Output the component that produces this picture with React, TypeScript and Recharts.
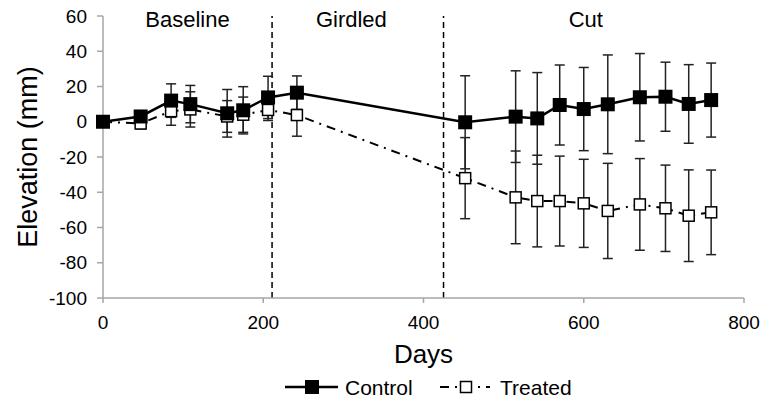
import React from 'react';
import {
  ComposedChart,
  Line,
  XAxis,
  YAxis,
  ErrorBar,
  ReferenceLine,
  ReferenceArea,
  Legend,
} from 'recharts';

const days = [0, 47, 85, 109, 155, 175, 206, 242, 452, 515, 542, 570, 600, 630, 670, 702, 731, 759];
const controlValues = [0, 3, 12, 10, 4.8, 6.5, 13.8, 16.5, -0.3, 2.9, 1.9, 9.5, 7.2, 9.9, 13.9, 14.2, 10.1, 12.3];
const controlErrors = [0, 3, 9.5, 10.6, 13.5, 13.4, 12, 9.5, 26.4, 26, 26, 22.7, 23.6, 28, 24.8, 19.6, 22.3, 21];
const treatedValues = [0, -1, 6, 7, 3, 4, 6.7, 3.8, -32, -42.9, -45, -45, -46.3, -50.6, -46.9, -49.1, -53.3, -51.4];
const treatedErrors = [0, 3, 8, 10, 9, 10, 6, 12, 23, 26.3, 26, 25.5, 25, 27, 26, 24.5, 26, 24];

const xTicks = [0, 200, 400, 600, 800];
const yTicks = [-100, -80, -60, -40, -20, 0, 20, 40, 60];
const phaseBreaks = [211, 425];
const phases = [
  { name: 'Baseline', from: 0, to: 211 },
  { name: 'Girdled', from: 211, to: 409 },
  { name: 'Cut', from: 425, to: 780 },
];

const data = days.map((d, i) => ({
  day: d,
  control: controlValues[i],
  controlErr: controlErrors[i],
  treated: treatedValues[i],
  treatedErr: treatedErrors[i],
}));

const FONT = '"Liberation Sans", Arial, sans-serif';
const AXIS = '#A6A6A6';

const ControlDot = (props: any) => {
  const { cx, cy, index } = props;
  if (cx == null || cy == null) return <g key={`c${index}`} />;
  return <rect key={`c${index}`} x={cx - 7} y={cy - 7} width={14} height={14} fill="#000" />;
};

const TreatedDot = (props: any) => {
  const { cx, cy, index } = props;
  if (cx == null || cy == null) return <g key={`t${index}`} />;
  return (
    <rect
      key={`t${index}`}
      x={cx - 5.5}
      y={cy - 5.5}
      width={11}
      height={11}
      fill="#fff"
      stroke="#000"
      strokeWidth={1.5}
    />
  );
};

const LegendContent = () => (
  <svg width={768} height={36} style={{ display: 'block', fontFamily: FONT }}>
    <line x1={285} y1={19} x2={338} y2={19} stroke="#000" strokeWidth={2.5} />
    <rect x={305} y={12} width={14} height={14} fill="#000" />
    <text x={345} y={26.5} fontSize={21} fill="#000">Control</text>
    <line x1={440} y1={19} x2={490} y2={19} stroke="#000" strokeWidth={2} strokeDasharray="9 6 2 6" />
    <rect x={460.5} y={13.5} width={11} height={11} fill="#fff" stroke="#000" strokeWidth={1.5} />
    <text x={500} y={26.5} fontSize={21} fill="#000">Treated</text>
  </svg>
);

export default function App() {
  return (
    <div style={{ position: 'absolute', left: 0, top: 0, width: 768, height: 404, background: '#fff', fontFamily: FONT }}>
      <ComposedChart width={768} height={404} data={data} margin={{ top: 16, right: 24, bottom: 0, left: 0 }}>
        <XAxis
          type="number"
          dataKey="day"
          domain={[0, 800]}
          ticks={xTicks}
          height={70}
          tickSize={5}
          tickMargin={13}
          axisLine={{ stroke: AXIS, strokeWidth: 1.5 }}
          tickLine={{ stroke: AXIS, strokeWidth: 1.5 }}
          tick={{ fill: '#000', fontSize: 19 }}
          label={{ value: 'Days', position: 'insideBottom', offset: 5, fontSize: 26, fill: '#000' }}
        />
        <YAxis
          type="number"
          domain={[-100, 60]}
          ticks={yTicks}
          width={103}
          tickSize={6}
          tickMargin={10}
          axisLine={{ stroke: AXIS, strokeWidth: 1.5 }}
          tickLine={{ stroke: AXIS, strokeWidth: 1.5 }}
          tick={{ fill: '#000', fontSize: 19 }}
          label={{
            content: () => (
              <text transform="translate(37,157) rotate(-90)" textAnchor="middle" fontSize={27} fill="#000" fontFamily={FONT}>
                Elevation (mm)
              </text>
            ),
          }}
        />
        {phases.map((p) => (
          <ReferenceArea
            key={p.name}
            x1={p.from}
            x2={p.to}
            fill="none"
            fillOpacity={0}
            stroke="none"
            label={{ value: p.name, position: 'insideTop', offset: -5, fontSize: 22, fill: '#000' }}
          />
        ))}
        {phaseBreaks.map((x) => (
          <ReferenceLine key={x} x={x} stroke="#000" strokeWidth={1.5} strokeDasharray="6 4" />
        ))}
        <Line
          dataKey="treated"
          stroke="#000"
          strokeWidth={2}
          strokeDasharray="9 6 2 6"
          dot={TreatedDot}
          activeDot={false}
          isAnimationActive={false}
          legendType="none"
        >
          <ErrorBar dataKey="treatedErr" width={5} stroke="#222" strokeWidth={1.5} direction="y" isAnimationActive={false} />
        </Line>
        <Line
          dataKey="control"
          stroke="#000"
          strokeWidth={2.5}
          dot={ControlDot}
          activeDot={false}
          isAnimationActive={false}
          legendType="none"
        >
          <ErrorBar dataKey="controlErr" width={5} stroke="#222" strokeWidth={1.5} direction="y" isAnimationActive={false} />
        </Line>
        <Legend verticalAlign="bottom" height={36} content={LegendContent} wrapperStyle={{ left: 0, width: 768 }} />
      </ComposedChart>
    </div>
  );
}
